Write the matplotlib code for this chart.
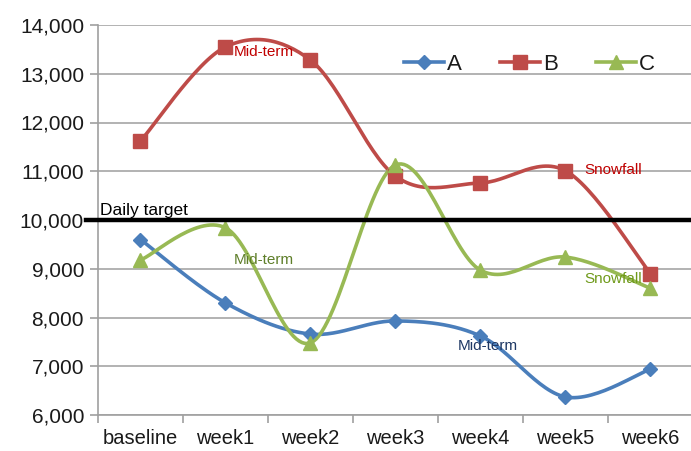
import numpy as np
import matplotlib
matplotlib.use("Agg")
import matplotlib.pyplot as plt
from matplotlib.ticker import FuncFormatter, MultipleLocator

categories = ["baseline", "week1", "week2", "week3", "week4", "week5", "week6"]
series_A = [9600, 8300, 7660, 7930, 7620, 6370, 6940]
series_B = [11620, 13550, 13280, 10900, 10760, 11010, 8900]
series_C = [9180, 9840, 7480, 11130, 8970, 9240, 8600]
target = 10000

plt.rcParams['font.family'] = ['Liberation Sans', 'DejaVu Sans']

col_A = "#4a7ebb"
col_B = "#be4b48"
col_C = "#98b954"


def smooth(xs, ys, n=30):
    xs = np.asarray(xs, float)
    ys = np.asarray(ys, float)
    px = np.concatenate([[xs[0]], xs, [xs[-1]]])
    py = np.concatenate([[ys[0]], ys, [ys[-1]]])
    outx, outy = [], []
    for i in range(1, len(px) - 2):
        p0x, p1x, p2x, p3x = px[i-1], px[i], px[i+1], px[i+2]
        p0y, p1y, p2y, p3y = py[i-1], py[i], py[i+1], py[i+2]
        c1x = p1x + (p2x - p0x) / 6
        c1y = p1y + (p2y - p0y) / 6
        c2x = p2x - (p3x - p1x) / 6
        c2y = p2y - (p3y - p1y) / 6
        t = np.linspace(0, 1, n, endpoint=(i == len(px) - 3))
        bx = (1-t)**3*p1x + 3*(1-t)**2*t*c1x + 3*(1-t)*t**2*c2x + t**3*p2x
        by = (1-t)**3*p1y + 3*(1-t)**2*t*c1y + 3*(1-t)*t**2*c2y + t**3*p2y
        outx.append(bx)
        outy.append(by)
    return np.concatenate(outx), np.concatenate(outy)


fig = plt.figure(figsize=(6.91, 4.51), dpi=100)
ax = fig.add_axes([98/691, 36/451, 595/691, 390/451])

x = np.arange(len(categories)) + 0.5

ax.set_xlim(0, 7)
ax.set_ylim(6000, 14000)
ax.yaxis.set_major_locator(MultipleLocator(1000))
ax.yaxis.set_major_formatter(FuncFormatter(lambda v, p: f"{int(v):,}"))
ax.grid(axis='y', color='#a6a6a6', linewidth=1.2)
ax.set_axisbelow(True)
ax.set_xticks(np.arange(0, 8))
ax.set_xticklabels([])
ax.set_xticks(x, minor=True)
ax.set_xticklabels(categories, minor=True)
ax.tick_params(axis='x', which='minor', length=0, labelsize=14.5, pad=10, labelcolor='#1a1a1a')
ax.tick_params(axis='x', which='major', length=6, color='#a0a0a0', width=1.2)
ax.tick_params(axis='y', length=6, color='#a0a0a0', width=1.2, labelsize=15, pad=4, labelcolor='#1a1a1a')
for s in ['top', 'right']:
    ax.spines[s].set_visible(False)
for s in ['left', 'bottom']:
    ax.spines[s].set_color('#a0a0a0')
    ax.spines[s].set_linewidth(1.2)

for ys, col, mk, ms, lab in [(series_A, col_A, 'D', 7, 'A'),
                             (series_B, col_B, 's', 9.5, 'B'),
                             (series_C, col_C, '^', 10, 'C')]:
    sx, sy = smooth(x, ys)
    ax.plot(sx, sy, color=col, linewidth=2.6, solid_capstyle='round', zorder=3)
    ax.plot(x, ys, linestyle='none', marker=mk, markersize=ms, color=col, zorder=4)
    ax.plot([], [], color=col, linewidth=2.6, marker=mk, markersize=ms, label=lab)

ax.plot([-0.14, 7], [target, target], color='black', linewidth=3.2, clip_on=False, zorder=5)
ax.text(0.02, 10040, "Daily target", fontsize=12.5, color='black', va='bottom', ha='left', zorder=6)

ax.text(1.6, 13446, "Mid-term", fontsize=11, color='#c00000', va='center', ha='left', zorder=6)
ax.text(5.72, 11026, "Snowfall", fontsize=11, color='#c00000', va='center', ha='left', zorder=6)
ax.text(1.6, 9179, "Mid-term", fontsize=11, color='#5f7f2a', va='center', ha='left', zorder=6)
ax.text(5.72, 8790, "Snowfall", fontsize=11, color='#6f9a1a', va='center', ha='left', zorder=6)
ax.text(4.235, 7415, "Mid-term", fontsize=11, color='#1f3864', va='center', ha='left', zorder=6)

leg = ax.legend(loc='center', bbox_to_anchor=(0.725, 0.9), ncol=3, frameon=False,
                fontsize=16, handlelength=1.8, handletextpad=0.15, columnspacing=1.7)
for t in leg.get_texts():
    t.set_color('#1a1a1a')

fig.savefig("out.png", dpi=100)
